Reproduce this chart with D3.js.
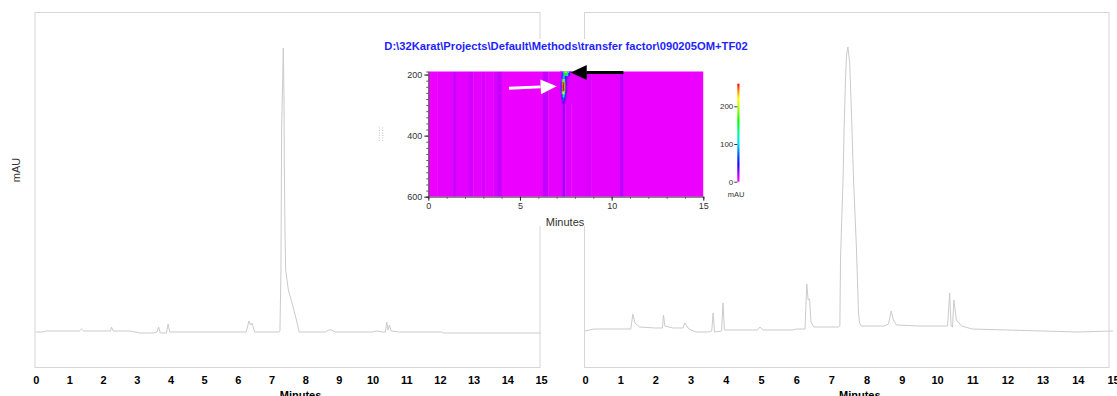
<!DOCTYPE html>
<html><head><meta charset="utf-8">
<script src="https://cdn.jsdelivr.net/npm/d3@7"></script>
<style>body{margin:0;background:#fff}svg{display:block}text{font-family:"Liberation Sans",Arial,sans-serif}</style>
</head><body><svg id="c" width="1117" height="396"></svg>
<script>
// ---------- data ----------
const minuteTicks = [0,1,2,3,4,5,6,7,8,9,10,11,12,13,14,15];
const xLabel = "Minutes";
const yLabel = "mAU";
const insetTitle = "D:\\32Karat\\Projects\\Default\\Methods\\transfer factor\\090205OM+TF02";

// left chromatogram (minutes, mAU)
const leftTimes  = [0,0.2,0.3,1.0,1.3,1.36,1.42,2.0,2.22,2.25,2.3,2.8,2.95,3.1,3.5,3.6,3.65,3.7,3.88,3.93,3.98,4.5,5.5,6.25,6.33,6.38,6.42,6.5,7.0,7.22,7.25,7.28,7.30,7.33,7.35,7.37,7.38,7.40,7.42,7.50,7.64,7.74,7.82,8.6,8.7,8.78,8.9,10.0,10.1,10.3,10.38,10.42,10.46,10.5,10.55,10.8,12.05,12.1,15];
const leftValues = [0,0,1,1,1,3,1,1,1,5,1,1,0,-1,-1,0,5,-1,-1,8,0,0,0,0,11,7,9,0,0,0,1,60,202,250,284,235,169,102,62,42,25,12,0,0,2,2,0,0,1,0,0,10,2,7,1,0,0,-1,-1];

// right chromatogram (minutes, mAU)
const rightTimes  = [0,0.25,1.0,1.3,1.36,1.42,1.55,2.0,2.2,2.23,2.27,2.5,2.78,2.84,2.95,3.15,3.5,3.6,3.64,3.68,3.88,3.92,3.96,4.2,4.9,4.97,5.05,5.9,6.0,6.25,6.30,6.34,6.38,6.42,6.5,7.0,7.2,7.24,7.26,7.33,7.36,7.40,7.43,7.47,7.52,7.57,7.63,7.71,7.77,7.80,7.85,8.5,8.62,8.70,8.76,8.85,9.5,10.3,10.36,10.40,10.44,10.48,10.55,10.7,11.0,12.0,13.0,14.0,15];
const rightValues = [1,3,3,3,18,9,5,4,4,17,6,4,4,9,3,0,0,1,19,0,1,29,2,2,2,5,2,2,3,3,48,32,33,10,5,5,5,6,75,152,202,252,277,285,269,219,152,85,19,9,6,6,8,21,12,7,6,6,39,6,5,32,12,6,3,2,1,0,1];

// inset heat map: column segments (start minute) with their background absorbance (mAU)
const heatColStarts = [0,0.5,1.3,1.5,2.2,2.45,2.9,3.1,3.55,3.75,4.0,6.25,6.55,7.33,7.47,7.8,8.6,8.9,10.45,10.65];
const heatColValues = [5,6,12,7,11,6,10,6,9,14,5,14,6,22,8,7,9,6,15,5];
const heatWlRange = [190,600];
const heatTimeRange = [0,15];
// hot-spot region near 7.4 min (rows = wavelength, columns = minutes)
const spotTimes = [7.20,7.25,7.30,7.35,7.40,7.45,7.50,7.55,7.60,7.65,7.70,7.75,7.80];
const spotWls = [190,200,210,220,230,240,250,260,270,280,290];
const spotValues = [
  [8,10,30,90,150,190,205,195,165,120,70,25,8],
  [8,10,25,70,110,150,165,145,110,70,35,14,7],
  [8,12,35,90,100,80,48,32,20,15,10,8,7],
  [8,20,90,190,200,130,50,25,15,10,8,7,7],
  [10,35,150,250,258,200,60,28,15,10,8,7,7],
  [10,40,170,260,260,220,65,28,15,10,8,7,7],
  [10,35,150,255,258,200,60,25,14,10,8,7,7],
  [8,25,100,210,220,130,45,22,12,9,7,7,7],
  [8,18,60,130,140,75,30,15,10,8,7,7,7],
  [8,12,32,70,80,42,18,12,8,7,7,7,7],
  [7,9,18,32,36,22,12,9,7,7,7,7,7]
];
const heatXTicks = [0,5,10,15];
const heatXMinor = [0,1,2,3,4,5,6,7,8,9,10,11,12,13,14,15];
const heatYTicks = [200,400,600];
const heatYMinor = [200,220,240,260,280,300,320,340,360,380,400,420,440,460,480,500,520,540,560,580,600];
const heatYLabel = "::::::";
const colorStops  = [0,10,25,45,65,100,130,160,200,220,240,260];
const colorValues = ["#ff00ff","#d800ff","#9000ff","#2000ff","#0040ff","#00d8ff","#00ffa0","#00ff00","#c0ff00","#ffff00","#ff9000","#ff0000"];
const colorbarTicks = [0,100,200];
const colorbarLabel = "mAU";
// annotation arrows in heat-map data coordinates [minutes, nm]
const arrows = [
  {from:[4.40,245], to:[7.00,238], color:"#ffffff"},
  {from:[10.64,193], to:[7.77,193], color:"#000000"}
];

// ---------- layout ----------
const svg = d3.select("#c");
const yScale = d3.scaleLinear([-35,320],[367,12]);
const panels = [
  {x: d3.scaleLinear([0,15],[35.7,541]), frame:[35,540], times:leftTimes, values:leftValues, ylab:true},
  {x: d3.scaleLinear([0,15],[585,1113]), frame:[584.5,1109], times:rightTimes, values:rightValues, ylab:false}
];

panels.forEach(p => {
  const g = svg.append("g");
  g.append("rect").attr("x",p.frame[0]).attr("y",12.5).attr("width",p.frame[1]-p.frame[0]).attr("height",355)
    .attr("fill","none").attr("stroke","#d6d6d6").attr("stroke-width",1);
  const pts = p.times.map((t,i)=>[t,p.values[i]]);
  g.append("path").datum(pts)
    .attr("d", d3.line().x(d=>p.x(d[0])).y(d=>yScale(d[1])))
    .attr("fill","none").attr("stroke","#cbcbcb").attr("stroke-width",1);
  const ax = g.append("g").attr("transform","translate(0,367)")
    .call(d3.axisBottom(p.x).tickValues(minuteTicks).tickSize(0).tickPadding(9).tickFormat(d3.format("d")));
  ax.select(".domain").remove();
  ax.selectAll("text").attr("font-size",11).attr("font-weight","bold").attr("fill","#000")
    .attr("font-family","'Liberation Sans',Arial,sans-serif");
  g.append("text").attr("x",(p.frame[0]+p.frame[1])/2+13).attr("y",399).attr("text-anchor","middle")
    .attr("font-size",11).attr("font-weight","bold").text(xLabel);
  if (p.ylab) {
    g.append("text").attr("transform","translate(20,170) rotate(-90)").attr("text-anchor","middle")
      .attr("font-size",11).attr("fill","#333").text(yLabel);
  }
});

// ---------- inset ----------
const inset = svg.append("g");
inset.append("rect").attr("x",372).attr("y",39).attr("width",388).attr("height",187).attr("fill","#fff");
inset.append("text").attr("x",566).attr("y",50).attr("text-anchor","middle")
  .attr("font-size",11.2).attr("font-weight","bold").attr("fill","#1f1fff").text(insetTitle);

const hx = d3.scaleLinear(heatTimeRange,[428.3,703.3]);
const hy = d3.scaleLinear(heatWlRange,[71.5,196.7]);
const color = d3.scaleLinear(colorStops,colorValues).clamp(true);

const defs = svg.append("defs");
defs.append("clipPath").attr("id","hclip").append("rect")
  .attr("x",hx(0)).attr("y",hy(190)).attr("width",hx(15)-hx(0)).attr("height",hy(600)-hy(190));
const blur = defs.append("filter").attr("id","blur").attr("x","-50%").attr("y","-50%").attr("width","200%").attr("height","200%");
blur.append("feGaussianBlur").attr("stdDeviation",0.5);
const blur2 = defs.append("filter").attr("id","blur2").attr("x","-5%").attr("y","-5%").attr("width","110%").attr("height","110%");
blur2.append("feGaussianBlur").attr("stdDeviation",0.6);

const heat = inset.append("g").attr("clip-path","url(#hclip)");
const cols = heatColStarts.map((s,i)=>({s, e: i+1<heatColStarts.length? heatColStarts[i+1] : heatTimeRange[1], v: heatColValues[i]}));
heat.append("g").attr("filter","url(#blur2)").selectAll("rect").data(cols).join("rect")
  .attr("x",d=>hx(d.s)).attr("width",d=>hx(d.e)-hx(d.s)+0.4)
  .attr("y",hy(190)-2).attr("height",hy(600)-hy(190)+4)
  .attr("fill",d=>color(d.v));
const dt = spotTimes[1]-spotTimes[0], dw = spotWls[1]-spotWls[0];
const spotCells = [];
spotWls.forEach((w,r)=>spotTimes.forEach((t,c)=>spotCells.push({t,w,v:spotValues[r][c]})));
heat.append("g").attr("filter","url(#blur)").selectAll("rect").data(spotCells).join("rect")
  .attr("x",d=>hx(d.t-dt/2)).attr("width",hx(dt)-hx(0)+0.3)
  .attr("y",d=>hy(d.w-dw/2)).attr("height",hy(dw)-hy(0)+0.3)
  .attr("fill",d=>color(d.v));

// heat axes
const fontAx = "'Liberation Sans',Arial,sans-serif";
const yAx = inset.append("g").attr("transform",`translate(${hx(0)},0)`)
  .call(d3.axisLeft(hy).tickValues(heatYMinor).tickSize(2).tickFormat(""));
yAx.select(".domain").attr("stroke","#555");
yAx.selectAll("line").attr("stroke","#555");
const yAx2 = inset.append("g").attr("transform",`translate(${hx(0)},0)`)
  .call(d3.axisLeft(hy).tickValues(heatYTicks).tickSize(4).tickPadding(2));
yAx2.select(".domain").remove();
yAx2.selectAll("line").attr("stroke","#222");
yAx2.selectAll("text").attr("font-size",9).attr("fill","#333").attr("font-family",fontAx);
const xAx = inset.append("g").attr("transform",`translate(0,${hy(600)})`)
  .call(d3.axisBottom(hx).tickValues(heatXMinor).tickSize(2).tickFormat(""));
xAx.select(".domain").attr("stroke","#555");
xAx.selectAll("line").attr("stroke","#555");
const xAx2 = inset.append("g").attr("transform",`translate(0,${hy(600)})`)
  .call(d3.axisBottom(hx).tickValues(heatXTicks).tickSize(4).tickPadding(2));
xAx2.select(".domain").remove();
xAx2.selectAll("line").attr("stroke","#222");
xAx2.selectAll("text").attr("font-size",9).attr("fill","#333").attr("font-family",fontAx);
inset.append("text").attr("x",565).attr("y",226).attr("text-anchor","middle")
  .attr("font-size",11).attr("fill","#333").text(xLabel);
inset.append("text").attr("transform","translate(383,134) rotate(-90)").attr("text-anchor","middle")
  .attr("font-size",7).attr("fill","#555").attr("letter-spacing",0.5).text(heatYLabel);

// arrows
arrows.forEach(a=>{
  const x0=hx(a.from[0]), y0=hy(a.from[1]), x1=hx(a.to[0]), y1=hy(a.to[1]);
  const ang=Math.atan2(y1-y0,x1-x0), L=16, H=7.5;
  const bx=x1-L*Math.cos(ang), by=y1-L*Math.sin(ang);
  inset.append("line").attr("x1",x0).attr("y1",y0).attr("x2",bx).attr("y2",by)
    .attr("stroke",a.color).attr("stroke-width",3);
  const px=-Math.sin(ang)*H, py=Math.cos(ang)*H;
  inset.append("path").attr("d",`M${x1},${y1}L${bx+px},${by+py}L${bx-px},${by-py}Z`).attr("fill",a.color);
});

// colorbar
const cb = d3.scaleLinear([0,260],[181.7,83.7]);
const grad = defs.append("linearGradient").attr("id","cbg").attr("x1",0).attr("y1",1).attr("x2",0).attr("y2",0);
colorStops.forEach((s,i)=>grad.append("stop").attr("offset",s/260).attr("stop-color",colorValues[i]));
inset.append("rect").attr("x",737.3).attr("y",cb(260)).attr("width",2.2).attr("height",cb(0)-cb(260)).attr("fill","url(#cbg)");
const cbAx = inset.append("g").attr("transform","translate(737.3,0)")
  .call(d3.axisLeft(cb).tickValues(colorbarTicks).tickSize(3).tickPadding(1));
cbAx.select(".domain").remove();
cbAx.selectAll("line").attr("stroke","#333");
cbAx.selectAll("text").attr("font-size",8).attr("fill","#333").attr("font-family",fontAx);
inset.append("text").attr("x",736).attr("y",197).attr("text-anchor","middle")
  .attr("font-size",7.5).attr("fill","#333").text(colorbarLabel);
</script></body></html>
